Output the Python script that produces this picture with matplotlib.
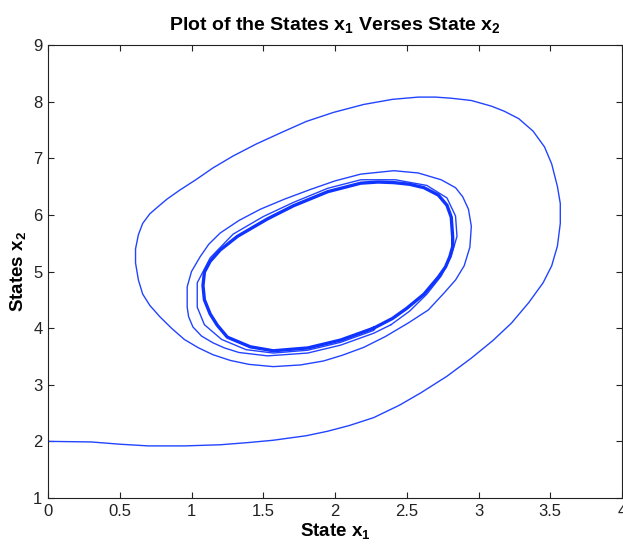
import matplotlib
matplotlib.use("Agg")
import matplotlib.pyplot as plt

plt.rcParams['font.family'] = ['Liberation Sans', 'DejaVu Sans']
plt.rcParams['mathtext.fontset'] = 'custom'
plt.rcParams['mathtext.rm'] = 'Liberation Sans'
plt.rcParams['mathtext.bf'] = 'Liberation Sans:bold'

# Transient: initial approach and first outer loops (state x1, state x2)
x1_transient = [0.00, 0.30, 0.50, 0.70, 0.95, 1.20, 1.40, 1.57, 1.80, 1.95, 2.10, 2.27, 2.45,
                2.60, 2.78, 2.95, 3.10, 3.23, 3.35, 3.45, 3.51, 3.55, 3.57, 3.57, 3.55, 3.51,
                3.46, 3.38, 3.28, 3.18, 3.09, 2.95, 2.81, 2.70, 2.58, 2.40, 2.20, 1.99, 1.80,
                1.64, 1.45, 1.29, 1.15, 1.03, 0.92, 0.83, 0.76, 0.71, 0.66, 0.63, 0.61, 0.61,
                0.63, 0.66, 0.71, 0.78, 0.86, 0.95, 1.05, 1.15, 1.27, 1.40, 1.57, 1.76, 1.92,
                2.05, 2.20, 2.35, 2.51, 2.65, 2.76, 2.84, 2.90, 2.94, 2.95, 2.93, 2.89, 2.84,
                2.74, 2.58, 2.41, 2.18, 2.00, 1.83, 1.65, 1.48, 1.33, 1.20, 1.12, 1.06, 1.00,
                0.97, 0.97, 0.98, 1.01, 1.07, 1.15, 1.23, 1.33, 1.53, 1.81, 2.04, 2.27, 2.39]
x2_transient = [2.00, 1.99, 1.95, 1.92, 1.92, 1.94, 1.98, 2.02, 2.10, 2.18, 2.28, 2.42, 2.64,
                2.86, 3.15, 3.47, 3.78, 4.09, 4.45, 4.80, 5.10, 5.45, 5.85, 6.20, 6.50, 6.90,
                7.20, 7.48, 7.70, 7.83, 7.92, 8.02, 8.06, 8.08, 8.08, 8.04, 7.95, 7.81, 7.65,
                7.47, 7.25, 7.04, 6.83, 6.62, 6.44, 6.28, 6.13, 6.02, 5.85, 5.65, 5.40, 5.15,
                4.85, 4.60, 4.40, 4.20, 4.00, 3.80, 3.65, 3.53, 3.43, 3.36, 3.32, 3.35, 3.42,
                3.52, 3.66, 3.85, 4.09, 4.32, 4.62, 4.85, 5.10, 5.43, 5.80, 6.10, 6.32, 6.48,
                6.62, 6.74, 6.78, 6.72, 6.60, 6.45, 6.28, 6.10, 5.90, 5.68, 5.48, 5.26, 5.00,
                4.73, 4.37, 4.20, 4.02, 3.86, 3.74, 3.65, 3.57, 3.51, 3.56, 3.70, 3.91, 4.06]

# Next inner loop
x1_inner = [2.39, 2.52, 2.64, 2.74, 2.81, 2.85, 2.84, 2.78, 2.64, 2.42, 2.18, 1.95, 1.71,
            1.50, 1.29, 1.13, 1.04, 1.04, 1.09, 1.21, 1.38, 1.57, 1.81, 2.04, 2.27]
x2_inner = [4.06, 4.30, 4.60, 4.92, 5.27, 5.62, 5.98, 6.30, 6.52, 6.62, 6.62, 6.47, 6.22,
            5.97, 5.66, 5.24, 4.80, 4.37, 4.06, 3.80, 3.62, 3.56, 3.61, 3.75, 3.96]

# Limit cycle
x1_cycle = [2.27, 2.40, 2.50, 2.62, 2.72, 2.77, 2.80, 2.82, 2.82, 2.81, 2.78, 2.72, 2.62,
            2.52, 2.41, 2.30, 2.18, 1.95, 1.71, 1.53, 1.32, 1.20, 1.13, 1.09, 1.08, 1.09,
            1.13, 1.18, 1.25, 1.41, 1.57, 1.81, 2.04, 2.27]
x2_cycle = [4.00, 4.17, 4.35, 4.60, 4.90, 5.08, 5.26, 5.44, 5.61, 5.96, 6.17, 6.35, 6.48,
            6.54, 6.57, 6.58, 6.56, 6.41, 6.16, 5.93, 5.62, 5.38, 5.18, 4.99, 4.75, 4.50,
            4.25, 4.05, 3.84, 3.67, 3.60, 3.65, 3.79, 4.00]

x_ticks = [0, 0.5, 1, 1.5, 2, 2.5, 3, 3.5, 4]
x_tick_labels = ['0', '0.5', '1', '1.5', '2', '2.5', '3', '3.5', '4']
y_ticks = [1, 2, 3, 4, 5, 6, 7, 8, 9]

fig = plt.figure(figsize=(6.23, 5.54), dpi=100)
ax = fig.add_axes([48 / 623, 56 / 554, 574 / 623, 453 / 554])

blue = '#2244ff'
ax.plot(x1_transient, x2_transient, color=blue, lw=1.0, solid_joinstyle='round')
ax.plot(x1_inner, x2_inner, color=blue, lw=1.0, solid_joinstyle='round')
ax.plot(x1_cycle, x2_cycle, color='#1034ff', lw=2.4, solid_joinstyle='round')

ax.set_xlim(0, 4)
ax.set_ylim(1, 9)
ax.set_xticks(x_ticks)
ax.set_xticklabels(x_tick_labels)
ax.set_yticks(y_ticks)
ax.tick_params(direction='in', length=4, width=0.8, top=True, right=True,
               labelsize=12, colors='#222222', pad=4)
for s in ax.spines.values():
    s.set_linewidth(0.8)
    s.set_color('#222222')

ax.set_title(r'Plot of the States x$_\mathbf{1}$ Verses State x$_\mathbf{2}$',
             fontsize=14, fontweight='bold', pad=10)
ax.set_xlabel(r'State x$_\mathbf{1}$', fontsize=13.5, fontweight='bold', labelpad=2)
ax.set_ylabel(r'States x$_\mathbf{2}$', fontsize=13.5, fontweight='bold', labelpad=3)

fig.savefig('out.png', dpi=100)
